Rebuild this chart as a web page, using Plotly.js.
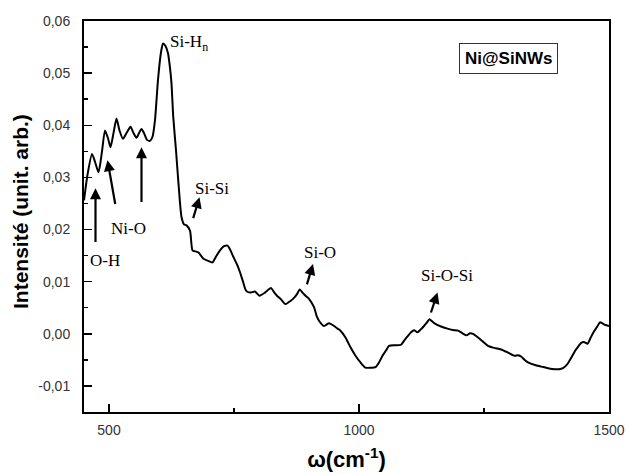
<!DOCTYPE html>
<html>
<head>
<meta charset="utf-8">
<script src="https://cdn.plot.ly/plotly-3.0.1.min.js"></script>
<style>html,body{margin:0;padding:0;background:#fff;}#chart{width:627px;height:474px;}</style>
</head>
<body>
<div id="chart"></div>
<script>
// Wavenumber (cm^-1)
const wavenumber = [450,457,466,472,479,486,492,498,503,509,515,521,528,535,543,549,555,560,565,570,576,582,587,592,598,604,608,613,618,622,625,628.5,634,639,645,650,655,662,667,673,679,689,698,707,714,722,730,737,743,749,756,762,768,774,782,792,801,812,818,824,830,836,844,853,863,871,876,881.5,887,893,900,910,915,920,930,940,950,957,963,973,983,993,1003,1013,1024,1033,1040,1047,1054,1060,1072,1084,1091,1097,1104,1110,1117,1123,1130,1136,1141,1146,1151,1164,1177,1190,1198,1207,1215,1222,1228,1238,1248,1258,1270,1284,1298,1311,1318,1325,1331,1338,1352,1365,1378,1392,1400,1408,1414,1419,1425,1432,1438,1445,1451,1457,1463,1469,1476,1482,1487,1492,1500];
// Intensity (arb. units)
const intensity = [0.0256,0.0305,0.0345,0.033,0.031,0.035,0.039,0.0375,0.0358,0.0385,0.0413,0.039,0.0374,0.0385,0.0397,0.0385,0.0376,0.0385,0.0393,0.0385,0.0372,0.037,0.0378,0.041,0.0487,0.054,0.0557,0.0552,0.0538,0.051,0.048,0.0416,0.0352,0.0288,0.0224,0.021,0.0208,0.0198,0.016,0.0158,0.0156,0.0144,0.014,0.0137,0.0148,0.016,0.0168,0.0169,0.016,0.0147,0.0133,0.0118,0.0100,0.0083,0.0079,0.0081,0.0073,0.0079,0.0084,0.0088,0.008,0.0073,0.0066,0.0057,0.0063,0.007,0.0076,0.0085,0.0079,0.0073,0.0067,0.0051,0.0035,0.0025,0.0015,0.002,0.0015,0.001,0.0006,-0.0007,-0.0026,-0.0042,-0.0055,-0.0065,-0.0065,-0.0064,-0.0055,-0.0042,-0.0032,-0.0023,-0.0022,-0.0021,-0.0012,-0.0005,0.0003,0.0007,0.0003,0.0008,0.0015,0.0022,0.0028,0.0024,0.002,0.0014,0.001,0.0007,0.0006,0.0001,-0.0003,0.0001,0,-0.0007,-0.0015,-0.0023,-0.0027,-0.003,-0.0036,-0.0042,-0.0041,-0.0044,-0.005,-0.0055,-0.006,-0.0063,-0.0066,-0.0068,-0.0068,-0.0066,-0.0061,-0.0055,-0.0045,-0.0033,-0.0025,-0.0017,-0.0016,-0.0019,-0.0008,0.0003,0.0013,0.0022,0.002,0.0017,0.0015];

const xTickVals = [500, 1000, 1500];
const xTickText = ['500', '1000', '1500'];
const yTickVals = [-0.01, 0, 0.01, 0.02, 0.03, 0.04, 0.05, 0.06];
const yTickText = ['-0,01', '0,00', '0,01', '0,02', '0,03', '0,04', '0,05', '0,06'];

// Peak labels: text, x, y
const labelText = ['Si-H<sub>n</sub>', 'Si-Si', 'Ni-O', 'O-H', 'Si-O', 'Si-O-Si'];
const labelX = [617, 667, 500, 457, 885, 1119];
const labelY = [0.0558, 0.0279, 0.0202, 0.014, 0.0156, 0.0111];

// Arrows: tail (x,y) -> head (x,y)
const arrowTailX = [473, 513, 565, 667.5, 895, 1143];
const arrowTailY = [0.0173, 0.0246, 0.025, 0.0219, 0.0092, 0.0038];
const arrowHeadX = [473, 497, 565, 681, 908, 1157];
const arrowHeadY = [0.0279, 0.0333, 0.0358, 0.0262, 0.0134, 0.0079];

const serif = 'Liberation Serif, Times New Roman, serif';
const sans = 'Liberation Sans, Arial, sans-serif';

const annotations = [];
labelText.forEach((t, i) => {
  annotations.push({
    x: labelX[i], y: labelY[i], xref: 'x', yref: 'y', text: t,
    showarrow: false, xanchor: 'left', yanchor: 'middle',
    font: {family: serif, size: 17, color: '#000'}
  });
});
arrowTailX.forEach((tx, i) => {
  annotations.push({
    x: arrowHeadX[i], y: arrowHeadY[i], ax: tx, ay: arrowTailY[i],
    xref: 'x', yref: 'y', axref: 'x', ayref: 'y', text: '',
    showarrow: true, arrowhead: 2, arrowsize: 1, arrowwidth: 2.2, arrowcolor: '#000'
  });
});
annotations.push({
  x: 0.808, y: 0.905, xref: 'paper', yref: 'paper', text: '<b>Ni@SiNWs</b>',
  showarrow: false, xanchor: 'center', yanchor: 'middle',
  font: {family: sans, size: 17, color: '#000'},
  bordercolor: '#333', borderwidth: 1, borderpad: 5, bgcolor: '#fff'
});
// y axis title placed as rotated annotation
annotations.push({
  x: -0.122, y: 0.514, xref: 'paper', yref: 'paper', text: '<b>Intensité (unit. arb.)</b>',
  textangle: -90, showarrow: false, xanchor: 'center', yanchor: 'middle',
  font: {family: sans, size: 21, color: '#000'}
});

const trace = {
  x: wavenumber, y: intensity, type: 'scatter', mode: 'lines',
  line: {color: '#000', width: 2, shape: 'spline', smoothing: 0.6}, hoverinfo: 'skip'
};

const layout = {
  width: 627, height: 474,
  margin: {l: 84, r: 18, t: 21, b: 62},
  paper_bgcolor: '#fff', plot_bgcolor: '#fff',
  showlegend: false,
  xaxis: {
    range: [450, 1500], tickvals: xTickVals, ticktext: xTickText,
    ticks: 'inside', ticklen: 8, tickwidth: 1.5, tickcolor: '#000',
    minor: {tickvals: [750, 1250], ticks: 'inside', ticklen: 4, tickwidth: 1.5, tickcolor: '#000'},
    showline: true, linewidth: 2, linecolor: '#000', mirror: true,
    showgrid: false, zeroline: false,
    tickfont: {family: sans, size: 14, color: '#333'},
    ticklabelstandoff: 4,
    title: {text: '<b>ω(cm<sup>-1</sup>)</b>', font: {family: sans, size: 22, color: '#000'}, standoff: 15}
  },
  yaxis: {
    range: [-0.015, 0.06], tickvals: yTickVals, ticktext: yTickText,
    ticks: 'inside', ticklen: 8, tickwidth: 1.5, tickcolor: '#000',
    minor: {dtick: 0.005, ticks: 'inside', ticklen: 4, tickwidth: 1.5, tickcolor: '#000'},
    showline: true, linewidth: 2, linecolor: '#000', mirror: true,
    showgrid: false, zeroline: false,
    tickfont: {family: sans, size: 14, color: '#333'},
    ticklabelstandoff: 9
  },
  annotations: annotations
};

Plotly.newPlot('chart', [trace], layout, {displayModeBar: false, staticPlot: true});
</script>
</body>
</html>
